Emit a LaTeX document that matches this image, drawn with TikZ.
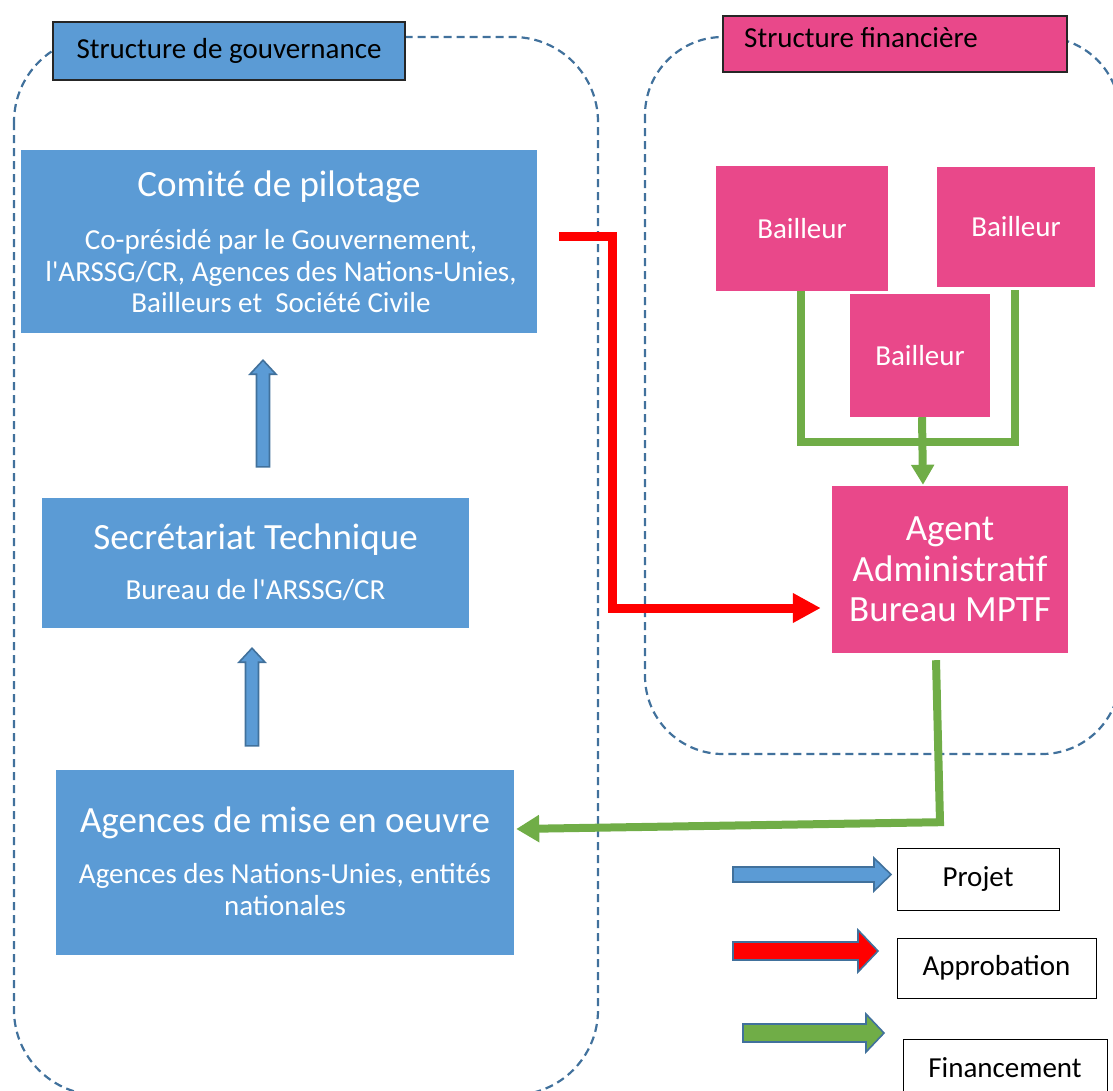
\documentclass[tikz,border=0pt]{standalone}
\usepackage{fontspec}
\setmainfont{Carlito}
\usetikzlibrary{arrows.meta,calc}
\definecolor{boxblue}{HTML}{5B9BD5}
\definecolor{boxpink}{HTML}{E9488A}
\definecolor{dashblue}{HTML}{41719C}
\definecolor{flowgreen}{HTML}{70AD47}
\definecolor{flowred}{HTML}{FF0000}
\begin{document}
\begin{tikzpicture}[x=1pt,y=-1pt,
  container/.style={draw=dashblue, line width=2.2pt, dash pattern=on 8pt off 5pt},
  bluebox/.style={fill=boxblue, draw=none, inner sep=0pt},
  pinkbox/.style={fill=boxpink, draw=none, inner sep=0pt, text=white, align=center},
  labelbox/.style={draw=black!85, line width=1.3pt, inner sep=0pt},
  legendbox/.style={draw=black, line width=1pt, fill=white, inner sep=0pt, font=\fontsize{29}{35}\selectfont},
  titletext/.style={text=white, font=\fontsize{37}{40.5}\selectfont, align=center, inner sep=0pt},
  subtext/.style={text=white, font=\fontsize{29}{31.5}\selectfont, align=center, inner sep=0pt},
  labeltext/.style={font=\fontsize{29}{35}\selectfont, inner sep=0pt},
  bailtext/.style={font=\fontsize{29}{35}\selectfont},
  greenline/.style={draw=flowgreen, line width=8pt, line join=miter},
  redline/.style={draw=flowred, line width=9pt, line join=miter},
  blockarrow/.style={draw=dashblue, line width=1.6pt, line join=miter}]

\useasboundingbox (0,0) rectangle (1113,1090);
\clip (0,0) rectangle (1113,1090);

% containers
\draw[container, rounded corners=85pt] (14,37) rectangle (598,1095);
\draw[container, rounded corners=78pt] (645,37) rectangle (1120,754);

% container labels
\node[labelbox, fill=boxblue, minimum width=352pt, minimum height=58pt] (govlab) at (229,51) {};
\node[labeltext] (govlabtext) at (229,51) {Structure de gouvernance};
\node[labelbox, fill=boxpink, minimum width=344pt, minimum height=56pt] (finlab) at (895,44) {};
\node[labeltext] (finlabtext) at (861,38) {Structure financière};

% governance boxes
\node[bluebox, minimum width=516pt, minimum height=183pt] (comite) at (279,241.5) {};
\node[titletext] (comitetitle) at (279,187) {Comité de pilotage};
\node[subtext] (comitesub) at (281,271.5) {Co-présidé par le Gouvernement,\\l\textquotesingle ARSSG/CR, Agences des Nations-Unies,\\Bailleurs et~ Société Civile};

\node[bluebox, minimum width=427pt, minimum height=130pt] (secr) at (255.5,563) {};
\node[titletext] (secrtitle) at (255.5,540) {Secrétariat Technique};
\node[subtext] (secrsub) at (255.5,590) {Bureau de l\textquotesingle ARSSG/CR};

\node[bluebox, minimum width=458pt, minimum height=185pt] (agences) at (285,862.5) {};
\node[titletext] (agencestitle) at (285,823) {Agences de mise en oeuvre};
\node[subtext] (agencessub) at (285,889.5) {Agences des Nations-Unies, entités\\nationales};

% financial boxes
\node[pinkbox, bailtext, minimum width=172pt, minimum height=125pt] (bail1) at (802,228.5) {Bailleur};
\node[pinkbox, bailtext, minimum width=158pt, minimum height=120pt] (bail3) at (1016,227) {Bailleur};
\node[pinkbox, bailtext, minimum width=140pt, minimum height=123pt] (bail2) at (920,355.5) {Bailleur};
\node[pinkbox, font=\fontsize{37}{40.5}\selectfont, minimum width=236pt, minimum height=167pt] (agent) at (950,569.5) {Agent\\Administratif\\Bureau MPTF};

% blue block arrows (project flow)
\coordinate (p1t) at ($(secr.north)+(7.5,-31)$);
\coordinate (p1h) at ($(comite.south)+(-16,27)$);
\draw[blockarrow, fill=boxblue] ($(p1t)+(-6.5,0)$) -- ($(p1h)+(-6.5,14)$) -- ($(p1h)+(-13,14)$) -- (p1h) -- ($(p1h)+(13,14)$) -- ($(p1h)+(6.5,14)$) -- ($(p1t)+(6.5,0)$) -- cycle;
\coordinate (p2t) at ($(agences.north)+(-33,-24)$);
\coordinate (p2h) at ($(secr.south)+(-3.5,20)$);
\draw[blockarrow, fill=boxblue] ($(p2t)+(-6.5,0)$) -- ($(p2h)+(-6.5,14)$) -- ($(p2h)+(-13,14)$) -- (p2h) -- ($(p2h)+(13,14)$) -- ($(p2h)+(6.5,14)$) -- ($(p2t)+(6.5,0)$) -- cycle;

% red approval connector
\draw[redline, -{Triangle[length=28pt,width=28pt]}] ($(comite.east)+(22,-5.5)$) -- ++(53,0) |- ($(agent.west)+(-11,38.5)$);

% green financing connectors
\draw[greenline] ($(bail1.south)+(-1,0)$) -- ++(0,151) -| ($(bail3.south)+(-1,3)$);
\draw[greenline, -{Triangle[length=20pt,width=22pt]}] ($(bail2.south)+(2,0)$) -- ($(agent.north)+(-27,-1)$);
\draw[greenline, -{Triangle[length=23pt,width=26pt]}] ($(agent.south)+(-14,7)$) -- ($(agent.south)+(-10,169)$) -- ($(agences.east)+(2,-33.5)$);

% legend
\node[legendbox, minimum width=162pt, minimum height=62pt] (lgprojet) at (978,879) {Projet};
\node[legendbox, minimum width=199pt, minimum height=60pt] (lgappro) at (996.5,968) {Approbation};
\node[legendbox, minimum width=204pt, minimum height=61pt, text depth=4pt] (lgfin) at (1005,1069.5) {Financement};

\coordinate (lbt) at (733,874.5);
\coordinate (lbh) at (891,874.5);
\draw[blockarrow, fill=boxblue] ($(lbt)+(0,-7.5)$) -- ($(lbh)+(-17,-7.5)$) -- ($(lbh)+(-17,-16.5)$) -- (lbh) -- ($(lbh)+(-17,16.5)$) -- ($(lbh)+(-17,7.5)$) -- ($(lbt)+(0,7.5)$) -- cycle;
\coordinate (lrt) at (733,951);
\coordinate (lrh) at (878,951);
\draw[blockarrow, fill=flowred] ($(lrt)+(0,-9)$) -- ($(lrh)+(-20,-9)$) -- ($(lrh)+(-20,-21)$) -- (lrh) -- ($(lrh)+(-20,21)$) -- ($(lrh)+(-20,9)$) -- ($(lrt)+(0,9)$) -- cycle;
\coordinate (lgt) at (743,1033);
\coordinate (lgh) at (884,1033);
\draw[blockarrow, fill=flowgreen] ($(lgt)+(0,-9)$) -- ($(lgh)+(-18,-9)$) -- ($(lgh)+(-18,-19)$) -- (lgh) -- ($(lgh)+(-18,19)$) -- ($(lgh)+(-18,9)$) -- ($(lgt)+(0,9)$) -- cycle;
\end{tikzpicture}
\end{document}
